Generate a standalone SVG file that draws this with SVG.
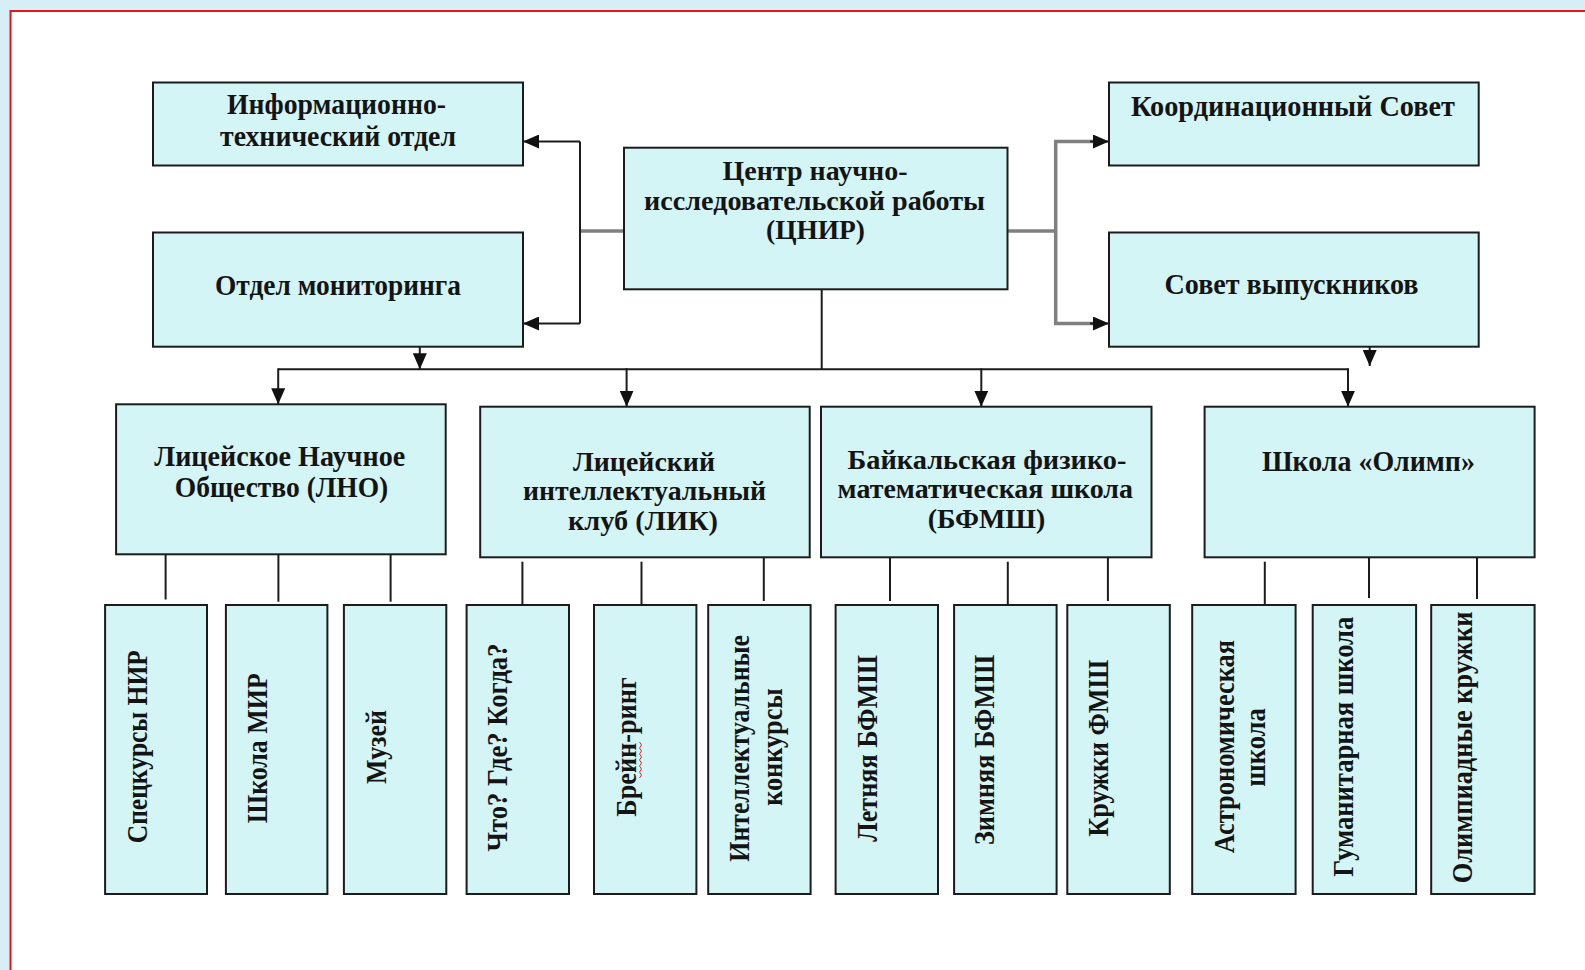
<svg xmlns="http://www.w3.org/2000/svg" width="1585" height="970" viewBox="0 0 1585 970">
<style>
.box{fill:#d4f5f5;stroke:#1c1c1c;stroke-width:2}
.t{font-family:"Liberation Serif","Times New Roman",serif;font-weight:bold;font-size:30px;fill:#141414;text-anchor:middle}
.s{font-size:28px}
.ln{stroke:#1c1c1c;stroke-width:2;fill:none}
.gr{stroke:#808080;stroke-width:3.5;fill:none}
</style>
<defs>
<marker id="ah" markerUnits="userSpaceOnUse" markerWidth="16" markerHeight="14" refX="16" refY="7" orient="auto">
<path d="M0,0 L16,7 L0,14 z" fill="#111"/>
</marker>
</defs>
<rect x="0" y="0" width="1585" height="970" fill="#d6eef6"/>
<rect x="10.5" y="11" width="1600" height="1000" fill="#ffffff" stroke="#e8141c" stroke-width="2"/>

<g id="connectors">
<line class="gr" x1="624" y1="231" x2="580" y2="231"/>
<line class="ln" x1="580" y1="141.5" x2="580" y2="323.5"/>
<line class="ln" x1="580" y1="141.5" x2="523" y2="141.5" marker-end="url(#ah)"/>
<line class="ln" x1="580" y1="323.5" x2="523" y2="323.5" marker-end="url(#ah)"/>
<line class="gr" x1="1007.5" y1="231" x2="1055.7" y2="231"/>
<line class="gr" x1="1055.7" y1="141.5" x2="1055.7" y2="323.5"/>
<line class="gr" x1="1054" y1="141.5" x2="1095" y2="141.5"/>
<line class="gr" x1="1054" y1="323.5" x2="1095" y2="323.5"/>
<line class="ln" x1="1090" y1="141.5" x2="1109" y2="141.5" marker-end="url(#ah)"/>
<line class="ln" x1="1090" y1="323.5" x2="1109" y2="323.5" marker-end="url(#ah)"/>
<line class="ln" x1="821.7" y1="289.3" x2="821.7" y2="369.3"/>
<line class="ln" x1="278.2" y1="369.3" x2="1348" y2="369.3"/>
<line class="ln" x1="419.8" y1="346.7" x2="419.8" y2="369.3" marker-end="url(#ah)"/>
<line class="ln" x1="1369.7" y1="346.7" x2="1369.7" y2="366" marker-end="url(#ah)"/>
<line class="ln" x1="278.2" y1="368.3" x2="278.2" y2="404.3" marker-end="url(#ah)"/>
<line class="ln" x1="626.6" y1="368.3" x2="626.6" y2="406.7" marker-end="url(#ah)"/>
<line class="ln" x1="981.3" y1="368.3" x2="981.3" y2="406.7" marker-end="url(#ah)"/>
<line class="ln" x1="1348" y1="368.3" x2="1348" y2="406.7" marker-end="url(#ah)"/>
<line class="ln" x1="165.6" y1="554.3" x2="165.6" y2="599.5"/>
<line class="ln" x1="278.4" y1="554.3" x2="278.4" y2="601.7"/>
<line class="ln" x1="390.6" y1="554.3" x2="390.6" y2="601.7"/>
<line class="ln" x1="522.4" y1="561.7" x2="522.4" y2="605"/>
<line class="ln" x1="641.5" y1="561.7" x2="641.5" y2="605"/>
<line class="ln" x1="763.8" y1="557.3" x2="763.8" y2="601"/>
<line class="ln" x1="890" y1="557.3" x2="890" y2="601"/>
<line class="ln" x1="1007.8" y1="561.7" x2="1007.8" y2="605"/>
<line class="ln" x1="1107.9" y1="557.3" x2="1107.9" y2="601"/>
<line class="ln" x1="1264.8" y1="561.7" x2="1264.8" y2="605"/>
<line class="ln" x1="1369" y1="553.3" x2="1369" y2="598"/>
<line class="ln" x1="1477" y1="553.3" x2="1477" y2="599"/>
</g>

<g id="n-info"><rect class="box" x="153" y="82.5" width="370" height="83"/>
<text class="t" x="336.5" y="114.3" textLength="219" lengthAdjust="spacingAndGlyphs">Информационно-</text>
<text class="t" x="338" y="145.7" textLength="236" lengthAdjust="spacingAndGlyphs">технический отдел</text></g>
<g id="n-monitor"><rect class="box" x="153" y="232.5" width="370" height="114.2"/>
<text class="t" x="338" y="295" textLength="246" lengthAdjust="spacingAndGlyphs">Отдел мониторинга</text></g>
<g id="n-center"><rect class="box" x="624" y="147.7" width="383.5" height="141.6"/>
<text class="t s" x="815" y="180" textLength="185" lengthAdjust="spacingAndGlyphs">Центр научно-</text>
<text class="t s" x="814.5" y="210" textLength="341" lengthAdjust="spacingAndGlyphs">исследовательской работы</text>
<text class="t s" x="815.5" y="238.5" textLength="99" lengthAdjust="spacingAndGlyphs">(ЦНИР)</text></g>
<g id="n-coord"><rect class="box" x="1109" y="82.5" width="369.7" height="83"/>
<text class="t" x="1293" y="116" textLength="324" lengthAdjust="spacingAndGlyphs">Координационный Совет</text></g>
<g id="n-alumni"><rect class="box" x="1109" y="232.5" width="369.7" height="114.2"/>
<text class="t" x="1291.5" y="294" textLength="254" lengthAdjust="spacingAndGlyphs">Совет выпускников</text></g>

<g id="n-lno"><rect class="box" x="116.1" y="404.3" width="329.6" height="150"/>
<text class="t" x="279.7" y="466" textLength="251" lengthAdjust="spacingAndGlyphs">Лицейское Научное</text>
<text class="t" x="281.5" y="497" textLength="213.5" lengthAdjust="spacingAndGlyphs">Общество (ЛНО)</text></g>
<g id="n-lik"><rect class="box" x="480.2" y="406.7" width="329.5" height="150.6"/>
<text class="t s" x="644" y="471" textLength="142" lengthAdjust="spacingAndGlyphs">Лицейский</text>
<text class="t s" x="644.5" y="500" textLength="243" lengthAdjust="spacingAndGlyphs">интеллектуальный</text>
<text class="t s" x="643" y="530" textLength="150" lengthAdjust="spacingAndGlyphs">клуб (ЛИК)</text></g>
<g id="n-bfmsh"><rect class="box" x="821" y="406.7" width="330.5" height="150.6"/>
<text class="t s" x="987" y="469" textLength="279" lengthAdjust="spacingAndGlyphs">Байкальская физико-</text>
<text class="t s" x="985.3" y="497.7" textLength="295.4" lengthAdjust="spacingAndGlyphs">математическая школа</text>
<text class="t s" x="986.5" y="528" textLength="117.7" lengthAdjust="spacingAndGlyphs">(БФМШ)</text></g>
<g id="n-olimp"><rect class="box" x="1204.6" y="406.7" width="330" height="150.6"/>
<text class="t" x="1368.4" y="471" textLength="213" lengthAdjust="spacingAndGlyphs">Школа «Олимп»</text></g>

<g id="n-speckursy"><rect class="box" x="105.1" y="605" width="101.9" height="289"/>
<text class="t" transform="translate(146.5,746.7) rotate(-90)" textLength="193" lengthAdjust="spacingAndGlyphs">Спецкурсы НИР</text></g>
<g id="n-shkola-mir"><rect class="box" x="225.9" y="605" width="101.5" height="289"/>
<text class="t" transform="translate(267,748.3) rotate(-90)" textLength="150" lengthAdjust="spacingAndGlyphs">Школа МИР</text></g>
<g id="n-muzei"><rect class="box" x="343.9" y="605" width="102.4" height="289"/>
<text class="t" transform="translate(386.4,747) rotate(-90)" textLength="74" lengthAdjust="spacingAndGlyphs">Музей</text></g>
<g id="n-chgk"><rect class="box" x="466.6" y="605" width="102.4" height="289"/>
<text class="t" transform="translate(506.7,747.5) rotate(-90)" textLength="208" lengthAdjust="spacingAndGlyphs">Что? Где? Когда?</text></g>
<g id="n-brein"><rect class="box" x="594" y="605" width="102.4" height="289"/>
<text class="t" transform="translate(636,747) rotate(-90)" textLength="139.4" lengthAdjust="spacingAndGlyphs">Брейн-ринг</text>
<path d="M639.5,742 l2,3 l-2,3 l2,3 l-2,3 l2,3 l-2,3 l2,3 l-2,3 l2,3 l-2,3 l2,3 l-2,3" fill="none" stroke="#e03030" stroke-width="1"/></g>
<g id="n-intel"><rect class="box" x="708.2" y="605" width="102.4" height="289"/>
<text class="t" transform="translate(748.5,748.3) rotate(-90)" textLength="226.7" lengthAdjust="spacingAndGlyphs">Интеллектуальные</text>
<text class="t" transform="translate(782,747) rotate(-90)" textLength="117.7" lengthAdjust="spacingAndGlyphs">конкурсы</text></g>
<g id="n-letnyaya"><rect class="box" x="835.6" y="605" width="102.4" height="289"/>
<text class="t" transform="translate(877,748.3) rotate(-90)" textLength="186.7" lengthAdjust="spacingAndGlyphs">Летняя БФМШ</text></g>
<g id="n-zimnyaya"><rect class="box" x="954.1" y="605" width="102.5" height="289"/>
<text class="t" transform="translate(994,750) rotate(-90)" textLength="190" lengthAdjust="spacingAndGlyphs">Зимняя БФМШ</text></g>
<g id="n-kruzhki-fmsh"><rect class="box" x="1067.3" y="605" width="102.5" height="289"/>
<text class="t" transform="translate(1108,748.3) rotate(-90)" textLength="176.7" lengthAdjust="spacingAndGlyphs">Кружки ФМШ</text></g>
<g id="n-astro"><rect class="box" x="1192.2" y="605" width="103.4" height="289"/>
<text class="t" transform="translate(1233.7,746.7) rotate(-90)" textLength="213.3" lengthAdjust="spacingAndGlyphs">Астрономическая</text>
<text class="t" transform="translate(1265,747.5) rotate(-90)" textLength="78.3" lengthAdjust="spacingAndGlyphs">школа</text></g>
<g id="n-guman"><rect class="box" x="1312.7" y="605" width="103.4" height="289"/>
<text class="t" transform="translate(1353,746.7) rotate(-90)" textLength="260" lengthAdjust="spacingAndGlyphs">Гуманитарная школа</text></g>
<g id="n-olimp-kruzhki"><rect class="box" x="1431.2" y="605" width="103.4" height="289"/>
<text class="t" transform="translate(1472,747.5) rotate(-90)" textLength="271.7" lengthAdjust="spacingAndGlyphs">Олимпиадные кружки</text></g>
</svg>
